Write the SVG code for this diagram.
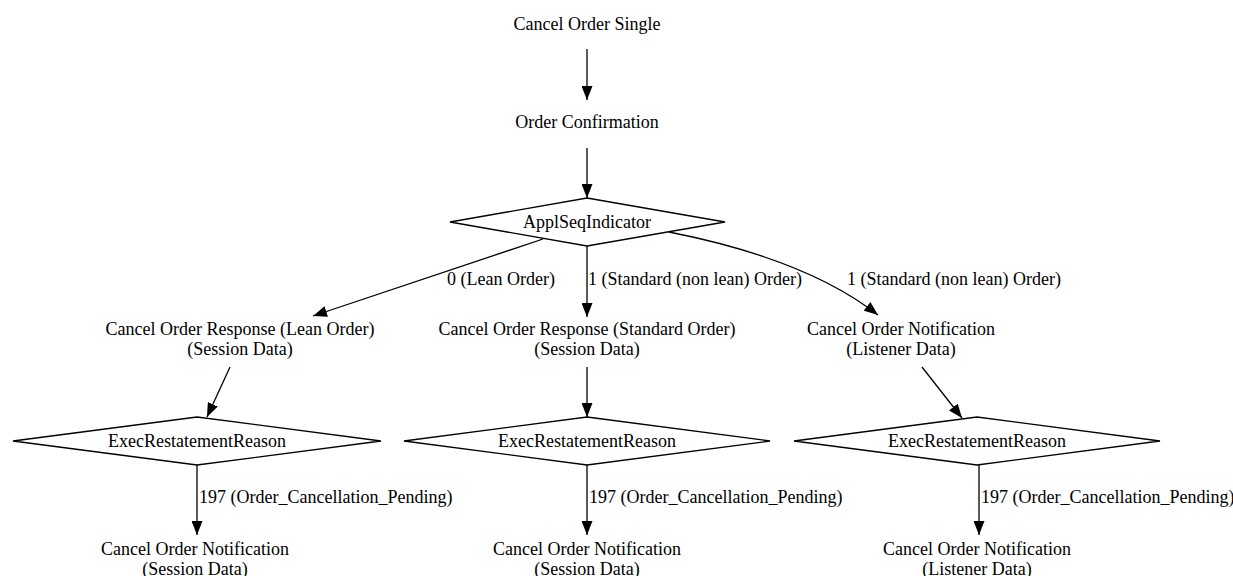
<svg xmlns="http://www.w3.org/2000/svg" width="1233" height="576" viewBox="0 0 1233 576">
<defs>
<marker id="arr" viewBox="0 0 14 11" refX="14" refY="5.5" markerWidth="14" markerHeight="11" markerUnits="userSpaceOnUse" orient="auto">
<path d="M0,0 L14,5.5 L0,11 Z" fill="#000"/>
</marker>
<style>
text{font-family:"Liberation Serif","Times New Roman",serif;font-size:18px;fill:#000}
.c{text-anchor:middle}
.d{fill:#fff;stroke:#000;stroke-width:1.3}
.e{fill:none;stroke:#000;stroke-width:1.3;marker-end:url(#arr)}
</style>
</defs>
<rect width="1233" height="576" fill="#fff"/>
<g id="connectors">
<path class="e" d="M587,49 L587,100"/>
<path class="e" d="M587,148 L587,198"/>
<path class="e" d="M543,239 L313,316"/>
<path class="e" d="M587,246 L587,317"/>
<path class="e" d="M669,232 C745,247 822,271 878,315"/>
<path class="e" d="M230,367 L207,417"/>
<path class="e" d="M587,367 L587,417"/>
<path class="e" d="M922,367 L962,418"/>
<path class="e" d="M197,465 L197,535"/>
<path class="e" d="M587,465 L587,535"/>
<path class="e" d="M979,465 L979,535"/>
<text x="447" y="285">0 (Lean Order)</text>
<text x="588" y="285">1 (Standard (non lean) Order)</text>
<text x="847" y="285">1 (Standard (non lean) Order)</text>
<text x="199" y="503">197 (Order_Cancellation_Pending)</text>
<text x="589" y="503">197 (Order_Cancellation_Pending)</text>
<text x="981" y="503">197 (Order_Cancellation_Pending)</text>
</g>
<g id="n_cancel_single"><text class="c" x="587" y="30">Cancel Order Single</text></g>
<g id="n_order_conf"><text class="c" x="587" y="128">Order Confirmation</text></g>
<g id="n_applseq"><polygon class="d" points="587,198 725,222 587,246 450,222"/><text class="c" x="587" y="228">ApplSeqIndicator</text></g>
<g id="n_resp_lean"><text class="c" x="240" y="335">Cancel Order Response (Lean Order)</text><text class="c" x="240" y="355">(Session Data)</text></g>
<g id="n_resp_std"><text class="c" x="587" y="335">Cancel Order Response (Standard Order)</text><text class="c" x="587" y="355">(Session Data)</text></g>
<g id="n_notif_listener"><text class="c" x="901" y="335">Cancel Order Notification</text><text class="c" x="901" y="355">(Listener Data)</text></g>
<g id="n_exec1"><polygon class="d" points="197,417 381,441 197,465 13,441"/><text class="c" x="197" y="447">ExecRestatementReason</text></g>
<g id="n_exec2"><polygon class="d" points="587,417 770,441 587,465 404,441"/><text class="c" x="587" y="447">ExecRestatementReason</text></g>
<g id="n_exec3"><polygon class="d" points="977,417 1160,441 977,465 794,441"/><text class="c" x="977" y="447">ExecRestatementReason</text></g>
<g id="n_notif1"><text class="c" x="195" y="555">Cancel Order Notification</text><text class="c" x="195" y="575">(Session Data)</text></g>
<g id="n_notif2"><text class="c" x="587" y="555">Cancel Order Notification</text><text class="c" x="587" y="575">(Session Data)</text></g>
<g id="n_notif3"><text class="c" x="977" y="555">Cancel Order Notification</text><text class="c" x="977" y="575">(Listener Data)</text></g>
</svg>
